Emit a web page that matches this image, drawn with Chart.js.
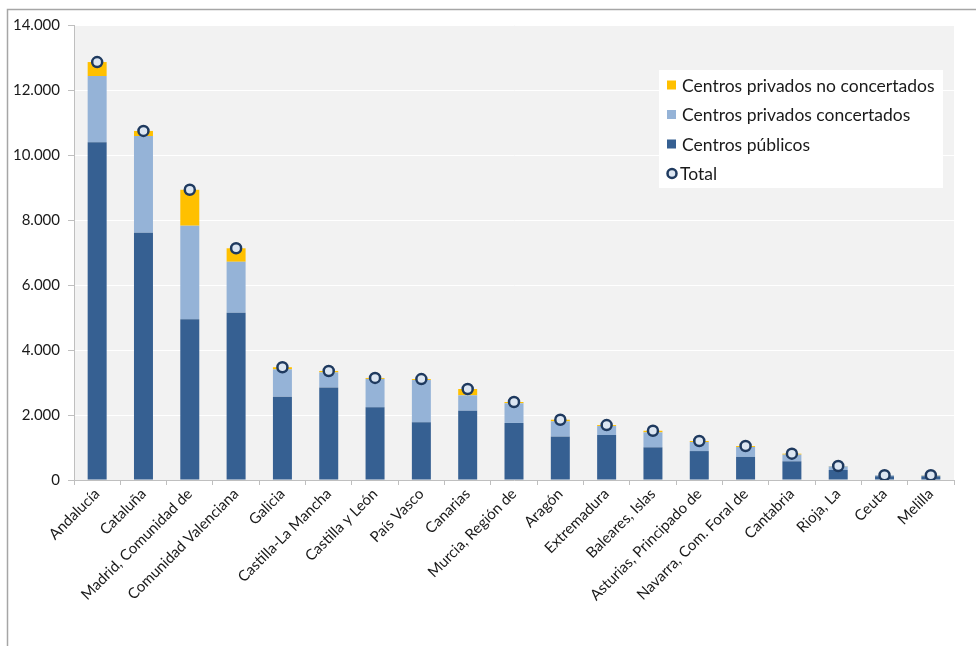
<!DOCTYPE html>
<html><head><meta charset="utf-8">
<script src="https://cdn.jsdelivr.net/npm/chart.js@4/dist/chart.umd.min.js"></script>
<style>html,body{margin:0;padding:0;background:#fff}#wrap{position:relative;width:976px;height:646px}</style>
</head><body><div id="wrap"><canvas id="c" width="976" height="646"></canvas></div>
<script>
const categories = ['Andalucía','Cataluña','Madrid, Comunidad de','Comunidad Valenciana','Galicia','Castilla-La Mancha','Castilla y León','País Vasco','Canarias','Murcia, Región de','Aragón','Extremadura','Baleares, Islas','Asturias, Principado de','Navarra, Com. Foral de','Cantabria','Rioja, La','Ceuta','Melilla'];
const publicos = [10390,7610,4950,5150,2565,2850,2235,1775,2130,1755,1335,1385,1005,890,710,575,310,115,115];
const concertados = [2040,2975,2875,1565,840,460,875,1300,475,605,470,275,460,280,305,205,110,30,25];
const noConcertados = [430,155,1105,415,65,45,30,30,195,40,50,30,50,30,30,30,10,5,10];
const totales = [12860,10740,8930,7130,3470,3355,3140,3105,2800,2400,1855,1690,1515,1200,1045,810,430,150,150];
const yTicks = [0,2000,4000,6000,8000,10000,12000,14000];

const FONT = 'Lato';
const fmt = v => v.toLocaleString('de-DE');

const bgPlugin = {
  id:'bg',
  beforeDraw(chart){
    const {ctx, chartArea:a} = chart;
    ctx.save();
    ctx.fillStyle='#fff'; ctx.fillRect(0,0,chart.width,chart.height);
    ctx.strokeStyle='#a6a6a6'; ctx.lineWidth=1.5;
    ctx.beginPath(); ctx.moveTo(7.5,chart.height); ctx.lineTo(7.5,9.5); ctx.lineTo(chart.width,9.5); ctx.stroke();
    ctx.fillStyle='#f2f2f2'; ctx.fillRect(a.left,a.top,a.right-a.left,a.bottom-a.top);
    ctx.restore();
  }
};
const legendPlugin = {
  id:'customLegend',
  afterDraw(chart){
    const ctx = chart.ctx;
    const x0=659, y0=70, w=284, h=118;
    ctx.save();
    ctx.fillStyle='#fff'; ctx.fillRect(x0,y0,w,h);
    const order=[2,1,0,3];
    ctx.font = '17.5px '+FONT; ctx.textBaseline='middle'; ctx.fillStyle='#1a1a1a';
    order.forEach((di,i)=>{
      const ds = chart.data.datasets[di];
      const cy = 85 + i*29.5;
      if(ds.type==='line'){
        ctx.beginPath(); ctx.arc(672,cy,4.5,0,Math.PI*2);
        ctx.fillStyle=ds.pointBackgroundColor; ctx.fill();
        ctx.lineWidth=2.5; ctx.strokeStyle=ds.pointBorderColor; ctx.stroke();
      } else {
        ctx.fillStyle=ds.backgroundColor; ctx.fillRect(667,cy-4.5,9,9);
      }
      ctx.fillStyle='#1a1a1a';
      ctx.fillText(ds.label, ds.type==='line'?680:682, cy+1);
    });
    ctx.restore();
  }
};

new Chart(document.getElementById('c'),{
  data:{
    labels: categories,
    datasets:[
      {type:'bar',label:'Centros públicos',data:publicos,backgroundColor:'#366092',stack:'s'},
      {type:'bar',label:'Centros privados concertados',data:concertados,backgroundColor:'#95b3d7',stack:'s'},
      {type:'bar',label:'Centros privados no concertados',data:noConcertados,backgroundColor:'#ffc000',stack:'s'},
      {type:'line',label:'Total',data:totales,stack:'t',showLine:false,pointRadius:5,pointHoverRadius:5,pointBorderWidth:2.5,
       pointBackgroundColor:'#dce6f2',pointBorderColor:'#1f3a5f',borderColor:'#1f3a5f',backgroundColor:'#dce6f2',order:-1}
    ]
  },
  options:{
    responsive:false, animation:false, devicePixelRatio:1,
    layout:{padding:{left:0,right:22,top:25,bottom:0}},
    datasets:{bar:{barPercentage:1,categoryPercentage:0.41}},
    plugins:{legend:{display:false},tooltip:{enabled:false}},
    scales:{
      x:{stacked:true,
        grid:{drawOnChartArea:false,tickColor:'#bfbfbf',tickLength:5,offset:true},
        border:{color:'#bfbfbf'},
        ticks:{font:{family:FONT,size:15},color:'#1a1a1a',maxRotation:45,minRotation:45,autoSkip:false,padding:0},
        afterFit(s){s.height=166;}
      },
      y:{stacked:true,min:0,max:14000,
        grid:{color:'#ffffff',tickColor:'#bfbfbf',tickLength:6,lineWidth:1},
        border:{color:'#bfbfbf'},
        afterBuildTicks(s){s.ticks = yTicks.map(v=>({value:v}));},
        ticks:{font:{family:FONT,size:15},color:'#1a1a1a',padding:8,callback:v=>fmt(v)},
        afterFit(s){s.width=74;}
      }
    }
  },
  plugins:[bgPlugin,legendPlugin]
});
</script></body></html>
